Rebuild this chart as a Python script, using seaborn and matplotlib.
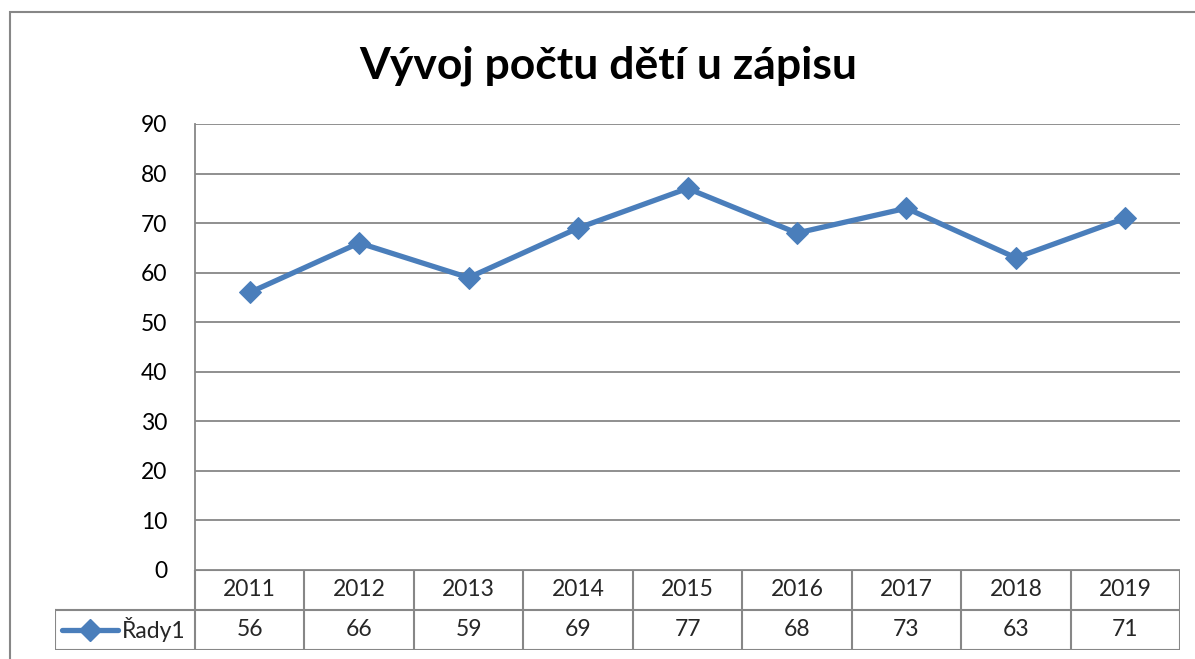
import seaborn as sns
import numpy as np
import pandas as pd
import matplotlib.pyplot as plt
from matplotlib.patches import Rectangle

years = ["2011", "2012", "2013", "2014", "2015", "2016", "2017", "2018", "2019"]
values = [56, 66, 59, 69, 77, 68, 73, 63, 71]
series_name = "Řady1"
title = "Vývoj počtu dětí u zápisu"

sns.set_style("white")
plt.rcParams['font.family'] = ['Lato', 'DejaVu Sans']

W, H = 1195, 659
fig = plt.figure(figsize=(W / 100, H / 100), dpi=100)

def fx(px):
    return px / W

def fy(py):
    return 1 - py / H

blue = "#4a7ebb"
grey = "#878787"
fs = 16.5

# outer chart border
fig.patches.append(Rectangle((fx(10), fy(700)), fx(1250) - fx(10), fy(12) - fy(700),
                             transform=fig.transFigure, fill=False, edgecolor=grey, lw=1.5))

left, right, top, bottom = 195, 1180, 124, 570
ax = fig.add_axes([fx(left), fy(bottom), fx(right) - fx(left), fy(top) - fy(bottom)])

df = pd.DataFrame({"x": np.arange(len(years)), "y": values})
sns.lineplot(data=df, x="x", y="y", ax=ax, color=blue, lw=3.8,
             marker="D", markersize=11, markeredgecolor=blue)

ax.set_xlim(-0.5, len(years) - 0.5)
ax.set_ylim(0, 90)
ax.set_yticks(range(0, 91, 10))
ax.set_xticks([])
ax.set_xlabel("")
ax.set_ylabel("")
ax.grid(axis="y", color=grey, lw=1.3)
for s in ["top", "right", "bottom"]:
    ax.spines[s].set_visible(False)
ax.spines["left"].set_color(grey)
ax.spines["left"].set_linewidth(1.3)
ax.tick_params(axis="y", length=0, pad=20, labelsize=fs, labelcolor="black")

fig.text(fx(608), fy(66), title, ha="center", va="center", fontsize=32,
         fontweight="bold", color="black")

# data table under the plot
leg_w = 140 / ((right - left) / len(years))
tab = fig.add_axes([fx(55), fy(650), fx(right) - fx(55), fy(570) - fy(650)])
tab.set_xlim(-0.5 - leg_w, len(years) - 0.5)
tab.set_ylim(0, 2)
tab.axis("off")
lk = dict(color=grey, lw=1.5, solid_capstyle="projecting")
tab.plot([-0.5, len(years) - 0.5], [2, 2], **lk)
tab.plot([-0.5 - leg_w, len(years) - 0.5], [1, 1], **lk)
tab.plot([-0.5 - leg_w, len(years) - 0.5], [0, 0], **lk)
tab.plot([-0.5 - leg_w, -0.5 - leg_w], [0, 1], **lk)
for i in range(len(years) + 1):
    tab.plot([i - 0.5, i - 0.5], [0, 2], **lk)
for i, (yr, v) in enumerate(zip(years, values)):
    tab.text(i, 1.5, yr, ha="center", va="center", fontsize=fs)
    tab.text(i, 0.5, str(v), ha="center", va="center", fontsize=fs)
# legend key
kx0 = -0.5 - leg_w + 0.06
tab.plot([kx0, kx0 + 0.52], [0.5, 0.5], color=blue, lw=3.8)
tab.plot([kx0 + 0.26], [0.5], marker="D", markersize=11, color=blue)
tab.text(kx0 + 0.55, 0.5, series_name, ha="left", va="center", fontsize=fs)

fig.savefig("out.png", dpi=100)
